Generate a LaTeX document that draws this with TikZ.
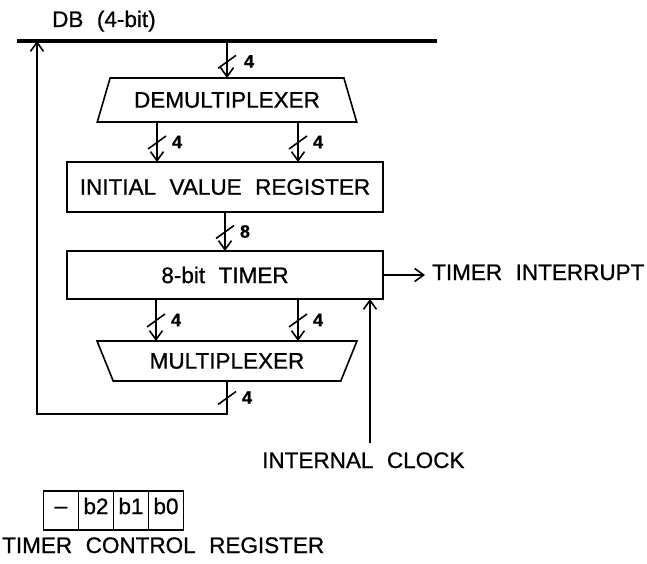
\documentclass[tikz,border=0pt]{standalone}
\usepackage{fontspec}
\setmainfont{Liberation Sans}[FakeBold=0.8]
\usepackage{tikz}
\usetikzlibrary{arrows.meta,shapes.geometric,positioning}
\newcommand{\lblfont}{\fontsize{22.5}{27}\selectfont\spaceskip=0.6em\relax}
\tikzset{
  caja/.style={draw,line width=1.6pt,inner sep=0pt,outer sep=0pt,minimum width=316pt,font=\lblfont},
  muxbox/.style={draw,line width=1.6pt,trapezium,trapezium stretches=true,inner sep=0pt,outer sep=0pt,minimum width=260pt,font=\lblfont},
  celda/.style={draw,line width=1.4pt,inner sep=0pt,outer sep=0pt,minimum width=35pt,minimum height=39pt,
    text height=0.72em,text depth=0pt,font=\lblfont},
  txt/.style={inner sep=0pt,font=\lblfont},
  num/.style={inner sep=0pt,font=\fontsize{18}{20}\selectfont\bfseries},
  sig/.style={-{Straight Barb[length=9pt,width=13pt]},line width=1.6pt},
  bus/.style={line width=4.5pt},
  corte/.pic={\draw[-,line width=1.6pt] (-9,7) -- (9,-6);}
}

\begin{document}
\begin{tikzpicture}[x=1pt,y=-1pt]
\useasboundingbox (0,0) rectangle (647,564);
% bus de datos
\node[txt,anchor=base west] (db) at (52,27) {DB (4-bit)};
\coordinate (busL) at (17,41);
\coordinate (busR) at (437,41);
\draw[bus] (busL) -- (busR);

% bloques
\node[muxbox,trapezium angle=57,minimum height=44pt] (demux) at (227,100) {DEMULTIPLEXER};
\node[caja,minimum height=50pt] (ivr) at (225,187) {INITIAL VALUE REGISTER};
\node[caja,minimum height=48pt] (timer) at (225,275) {8-bit TIMER};
\node[muxbox,trapezium angle=125,minimum height=40pt] (mux) at (227,361) {MULTIPLEXER};

% conexiones
\draw[sig] (demux.north |- busL) -- (demux.north) pic[pos=.55]{corte} node[num,pos=.55,xshift=22pt] (n0) {4};
\coordinate (dA) at ([xshift=-70pt]demux.south);
\coordinate (dB) at ([xshift=71pt]demux.south);
\draw[sig] (dA) -- (dA |- ivr.north) pic[pos=.5]{corte} node[num,pos=.5,xshift=20pt] (n1) {4};
\draw[sig] (dB) -- (dB |- ivr.north) pic[pos=.5]{corte} node[num,pos=.5,xshift=20pt] (n2) {4};
\draw[sig] (ivr.south) -- (timer.north) pic[pos=.5]{corte} node[num,pos=.5,xshift=20pt] (n3) {8};
\coordinate (tA) at ([xshift=-69pt]timer.south);
\coordinate (tB) at ([xshift=73pt]timer.south);
\draw[sig] (tA) -- (tA |- mux.north) pic[pos=.5]{corte} node[num,pos=.5,xshift=20pt] (n4) {4};
\draw[sig] (tB) -- (tB |- mux.north) pic[pos=.5]{corte} node[num,pos=.5,xshift=20pt] (n5) {4};
\coordinate (fbL) at (37,414);
\draw[sig] (mux.south) -- (mux.south |- fbL) pic[pos=.5]{corte} node[num,pos=.5,xshift=20pt] (n6) {4}
  -- (fbL) -- (fbL |- busL);

% salidas y reloj
\node[txt,anchor=base west] (irq) at (432,280) {TIMER INTERRUPT};
\coordinate (irqin) at ([xshift=-7pt]irq.west);
\draw[sig] (timer.east) -- (irqin |- timer.east);
\node[txt,anchor=base west] (iclk) at (262,468) {INTERNAL CLOCK};
\coordinate (clk) at (370,443);
\draw[sig] (clk) -- (clk |- timer.south);

% registro de control
\node[celda,text height=0.58em] (tc3) at (61,510.5) {\textendash};
\node[celda,right=0pt of tc3] (tc2) {b2};
\node[celda,right=0pt of tc2] (tc1) {b1};
\node[celda,right=0pt of tc1] (tc0) {b0};
\node[txt,anchor=base west] (tcr) at (2,553) {TIMER CONTROL REGISTER};
\end{tikzpicture}
\end{document}
